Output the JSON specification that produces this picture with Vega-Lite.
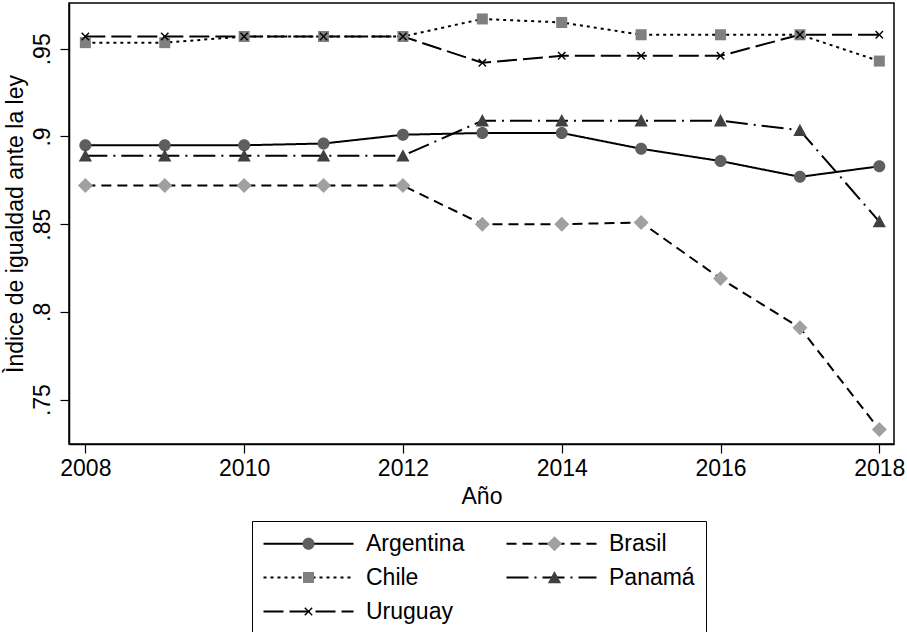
{
  "$schema": "https://vega.github.io/schema/vega-lite/v6.json",
  "width": 825,
  "height": 441,
  "autosize": {"type": "none"},
  "padding": {"left": 69, "top": 3, "right": 13, "bottom": 188},
  "background": "white",
  "config": {
    "font": "Liberation Sans",
    "view": {"stroke": "black", "strokeWidth": 1.5},
    "axis": {
      "grid": false,
      "labelFont": "Liberation Sans",
      "titleFont": "Liberation Sans",
      "labelFontSize": 23,
      "titleFontSize": 23,
      "titleFontWeight": "normal",
      "labelColor": "black",
      "titleColor": "black",
      "tickColor": "black",
      "domainColor": "black",
      "domainWidth": 1.5,
      "tickWidth": 1.2,
      "tickSize": 9
    },
    "legend": {"labelFont": "Liberation Sans", "labelColor": "black"}
  },
  "data": {
    "values": [
      {"pais": "Argentina", "anio": 2008, "valor": 0.895},
      {"pais": "Argentina", "anio": 2009, "valor": 0.895},
      {"pais": "Argentina", "anio": 2010, "valor": 0.895},
      {"pais": "Argentina", "anio": 2011, "valor": 0.896},
      {"pais": "Argentina", "anio": 2012, "valor": 0.901},
      {"pais": "Argentina", "anio": 2013, "valor": 0.902},
      {"pais": "Argentina", "anio": 2014, "valor": 0.902},
      {"pais": "Argentina", "anio": 2015, "valor": 0.893},
      {"pais": "Argentina", "anio": 2016, "valor": 0.886},
      {"pais": "Argentina", "anio": 2017, "valor": 0.877},
      {"pais": "Argentina", "anio": 2018, "valor": 0.883},
      {"pais": "Brasil", "anio": 2008, "valor": 0.872},
      {"pais": "Brasil", "anio": 2009, "valor": 0.872},
      {"pais": "Brasil", "anio": 2010, "valor": 0.872},
      {"pais": "Brasil", "anio": 2011, "valor": 0.872},
      {"pais": "Brasil", "anio": 2012, "valor": 0.872},
      {"pais": "Brasil", "anio": 2013, "valor": 0.850},
      {"pais": "Brasil", "anio": 2014, "valor": 0.850},
      {"pais": "Brasil", "anio": 2015, "valor": 0.851},
      {"pais": "Brasil", "anio": 2016, "valor": 0.819},
      {"pais": "Brasil", "anio": 2017, "valor": 0.791},
      {"pais": "Brasil", "anio": 2018, "valor": 0.733},
      {"pais": "Chile", "anio": 2008, "valor": 0.9535},
      {"pais": "Chile", "anio": 2009, "valor": 0.9535},
      {"pais": "Chile", "anio": 2010, "valor": 0.957},
      {"pais": "Chile", "anio": 2011, "valor": 0.957},
      {"pais": "Chile", "anio": 2012, "valor": 0.957},
      {"pais": "Chile", "anio": 2013, "valor": 0.967},
      {"pais": "Chile", "anio": 2014, "valor": 0.965},
      {"pais": "Chile", "anio": 2015, "valor": 0.958},
      {"pais": "Chile", "anio": 2016, "valor": 0.958},
      {"pais": "Chile", "anio": 2017, "valor": 0.958},
      {"pais": "Chile", "anio": 2018, "valor": 0.943},
      {"pais": "Panamá", "anio": 2008, "valor": 0.889},
      {"pais": "Panamá", "anio": 2009, "valor": 0.889},
      {"pais": "Panamá", "anio": 2010, "valor": 0.889},
      {"pais": "Panamá", "anio": 2011, "valor": 0.889},
      {"pais": "Panamá", "anio": 2012, "valor": 0.889},
      {"pais": "Panamá", "anio": 2013, "valor": 0.909},
      {"pais": "Panamá", "anio": 2014, "valor": 0.909},
      {"pais": "Panamá", "anio": 2015, "valor": 0.909},
      {"pais": "Panamá", "anio": 2016, "valor": 0.909},
      {"pais": "Panamá", "anio": 2017, "valor": 0.9035},
      {"pais": "Panamá", "anio": 2018, "valor": 0.8515},
      {"pais": "Uruguay", "anio": 2008, "valor": 0.957},
      {"pais": "Uruguay", "anio": 2009, "valor": 0.957},
      {"pais": "Uruguay", "anio": 2010, "valor": 0.957},
      {"pais": "Uruguay", "anio": 2011, "valor": 0.957},
      {"pais": "Uruguay", "anio": 2012, "valor": 0.957},
      {"pais": "Uruguay", "anio": 2013, "valor": 0.942},
      {"pais": "Uruguay", "anio": 2014, "valor": 0.946},
      {"pais": "Uruguay", "anio": 2015, "valor": 0.946},
      {"pais": "Uruguay", "anio": 2016, "valor": 0.946},
      {"pais": "Uruguay", "anio": 2017, "valor": 0.958},
      {"pais": "Uruguay", "anio": 2018, "valor": 0.958}
    ]
  },
  "encoding": {
    "x": {
      "field": "anio",
      "type": "quantitative",
      "scale": {"domain": [2007.794, 2018.185], "nice": false, "zero": false},
      "axis": {"title": "Año", "values": [2008, 2010, 2012, 2014, 2016, 2018], "format": "d", "labelPadding": 4, "titlePadding": 5, "labelFlush": false}
    },
    "y": {
      "field": "valor",
      "type": "quantitative",
      "scale": {"domain": [0.7247, 0.9761], "nice": false, "zero": false},
      "axis": {
        "title": "Ìndice de igualdad ante la ley",
        "values": [0.75, 0.8, 0.85, 0.9, 0.95],
        "labelExpr": "substring(format(datum.value, '.2~f'), 1)",
        "labelAngle": 270,
        "labelAlign": "center",
        "labelBaseline": "bottom",
        "labelPadding": 6,
        "titlePadding": 4,
        "labelFlush": false
      }
    }
  },
  "layer": [
    {
      "mark": {"type": "line", "color": "black", "strokeWidth": 2},
      "encoding": {
        "strokeDash": {
          "field": "pais",
          "type": "nominal",
          "scale": {"range": [[1, 0], [10, 6], [3, 4], [22, 6, 2, 6], [20, 6]]},
          "legend": {
            "orient": "none",
            "legendX": 183,
            "legendY": 518,
            "direction": "horizontal",
            "columns": 2,
            "title": null,
            "symbolType": "M-4.5,0H4.5",
            "symbolSize": 400,
            "symbolStrokeWidth": 2,
            "symbolStrokeColor": "black",
            "symbolOffset": 34,
            "labelFontSize": 23,
            "labelOffset": 46,
            "strokeColor": "black",
            "fillColor": "white",
            "padding": 11,
            "rowPadding": 10,
            "columnPadding": 37,
            "zindex": 0
          }
        }
      }
    },
    {
      "mark": {"type": "point", "filled": true, "opacity": 1, "size": 144, "strokeWidth": 0},
      "encoding": {
        "shape": {
          "field": "pais",
          "type": "nominal",
          "scale": {
            "domain": ["Argentina", "Brasil", "Chile", "Panamá", "Uruguay"],
            "range": [
              "M-7.667,0M7.667,0M1,0A1,1,0,1,1,-1,0A1,1,0,1,1,1,0Z",
              "M-7.667,0M7.667,0M0,-1.25L1.25,0L0,1.25L-1.25,0Z",
              "M-7.667,0M7.667,0M-0.92,-0.92H0.92V0.92H-0.92Z",
              "M-7.667,0M7.667,0M0,-1.1L1.1,0.95H-1.1Z",
              "M-7.667,0M7.667,0M-0.7,-0.53L-0.53,-0.7L0,-0.17L0.53,-0.7L0.7,-0.53L0.17,0L0.7,0.53L0.53,0.7L0,0.17L-0.53,0.7L-0.7,0.53L-0.17,0Z"
            ]
          },
          "legend": {
            "orient": "none",
            "legendX": 183,
            "legendY": 518,
            "direction": "horizontal",
            "columns": 2,
            "title": null,
            "symbolSize": 144,
            "symbolStrokeWidth": 0,
            "symbolOffset": 34,
            "labelFontSize": 23,
            "labelOffset": 0,
            "labelExpr": "''",
            "padding": 11,
            "rowPadding": 10,
            "columnPadding": 153,
            "zindex": 1
          }
        },
        "fill": {
          "field": "pais",
          "type": "nominal",
          "scale": {
            "domain": ["Argentina", "Brasil", "Chile", "Panamá", "Uruguay"],
            "range": ["#5f5f5f", "#a0a0a0", "#808080", "#404040", "#000000"]
          },
          "legend": {
            "orient": "none",
            "legendX": 183,
            "legendY": 518,
            "direction": "horizontal",
            "columns": 2,
            "title": null,
            "symbolSize": 144,
            "symbolStrokeWidth": 0,
            "symbolOffset": 34,
            "labelFontSize": 23,
            "labelOffset": 0,
            "labelExpr": "''",
            "padding": 11,
            "rowPadding": 10,
            "columnPadding": 153,
            "zindex": 1
          }
        }
      }
    }
  ]
}
